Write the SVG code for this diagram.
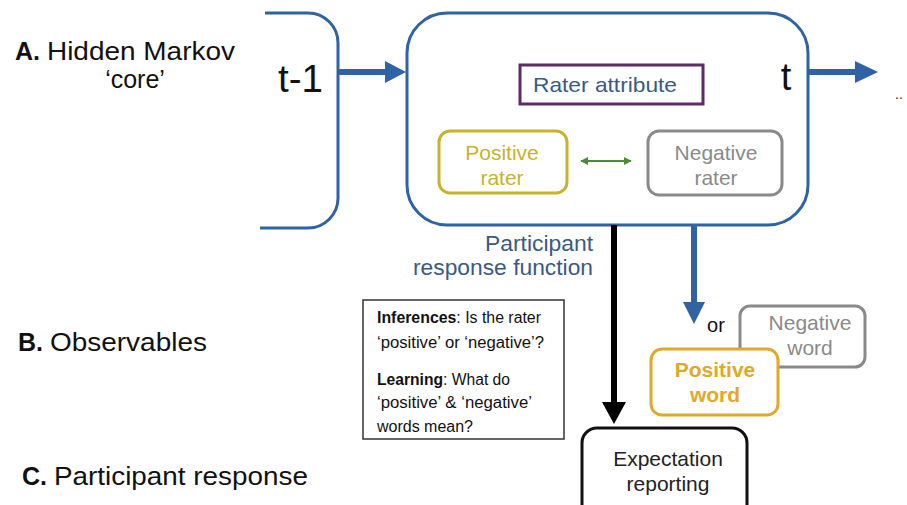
<svg xmlns="http://www.w3.org/2000/svg" width="907" height="505" viewBox="0 0 907 505">
<defs>
<style>
text{font-family:"Liberation Sans",Arial,sans-serif}
.lbl{font-size:25px;fill:#111}
.b{font-weight:bold}
.blue{stroke:#2f63a3;fill:none}
.bt{fill:#3a5a82}
.inf{font-size:16px;fill:#111}
</style>
<marker id="gh" viewBox="0 0 10 10" refX="9" refY="5" markerWidth="4" markerHeight="4" orient="auto-start-reverse"><path d="M0,0 L10,5 L0,10 z" fill="#4e8a3a"/></marker>
</defs>
<rect width="907" height="505" fill="#fff"/>

<g id="labels">
<text class="lbl" x="15" y="60"><tspan class="b">A.</tspan> <tspan textLength="188" lengthAdjust="spacingAndGlyphs">Hidden Markov</tspan></text>
<text class="lbl" x="135" y="88" text-anchor="middle">‘core’</text>
<text class="lbl" x="18" y="351"><tspan class="b">B.</tspan> <tspan textLength="157" lengthAdjust="spacingAndGlyphs">Observables</tspan></text>
<text class="lbl" x="22" y="485"><tspan class="b">C.</tspan> <tspan textLength="254" lengthAdjust="spacingAndGlyphs">Participant response</tspan></text>
</g>

<g id="prev">
<path class="blue" stroke-width="3" d="M265,13 H308 A30,30 0 0 1 338,43 V198 A30,30 0 0 1 308,228 H260"/>
<text x="278" y="92" font-size="38" fill="#111" textLength="45" lengthAdjust="spacingAndGlyphs">t-1</text>
</g>

<g id="core">
<rect class="blue" stroke-width="3" x="407" y="13" width="401" height="212" rx="40"/>
<text x="786" y="90" font-size="38" fill="#111" text-anchor="middle">t</text>
</g>

<g id="rater-attribute">
<rect x="520" y="65" width="183" height="39" fill="#fff" stroke="#5e2a68" stroke-width="3"/>
<text class="bt" x="605" y="92" font-size="21" text-anchor="middle" textLength="144" lengthAdjust="spacingAndGlyphs">Rater attribute</text>
</g>

<g id="positive-rater">
<rect x="439" y="131" width="128" height="62" rx="11" fill="#fff" stroke="#c8b22a" stroke-width="3"/>
<text x="502" y="160" font-size="21" fill="#c8b22a" text-anchor="middle">Positive</text>
<text x="502" y="185" font-size="21" fill="#c8b22a" text-anchor="middle">rater</text>
</g>

<g id="negative-rater">
<rect x="648" y="131" width="134" height="64" rx="11" fill="#fff" stroke="#8a8a8a" stroke-width="3"/>
<text x="716" y="160" font-size="21" fill="#8a8a8a" text-anchor="middle">Negative</text>
<text x="716" y="185" font-size="21" fill="#8a8a8a" text-anchor="middle">rater</text>
</g>

<g id="participant-label">
<text class="bt" x="593" y="251" font-size="22" text-anchor="end" textLength="108" lengthAdjust="spacingAndGlyphs">Participant</text>
<text class="bt" x="593" y="275" font-size="22" text-anchor="end" textLength="180" lengthAdjust="spacingAndGlyphs">response function</text>
</g>

<g id="inference-box">
<rect x="363" y="300" width="201" height="139" fill="#fff" stroke="#333" stroke-width="1.5"/>
<text class="inf" x="377" y="323" textLength="164" lengthAdjust="spacingAndGlyphs"><tspan class="b">Inferences</tspan>: Is the rater</text>
<text class="inf" x="377" y="348" textLength="167" lengthAdjust="spacingAndGlyphs">‘positive’ or ‘negative’?</text>
<text class="inf" x="377" y="385" textLength="133" lengthAdjust="spacingAndGlyphs"><tspan class="b">Learning</tspan>: What do</text>
<text class="inf" x="377" y="408" textLength="155" lengthAdjust="spacingAndGlyphs">‘positive’ &amp; ‘negative’</text>
<text class="inf" x="377" y="432" textLength="96" lengthAdjust="spacingAndGlyphs">words mean?</text>
</g>

<g id="negative-word">
<rect x="740" y="306" width="125" height="61" rx="10" fill="#fff" stroke="#8a8a8a" stroke-width="3"/>
<text x="810" y="330" font-size="21" fill="#8a8a8a" text-anchor="middle">Negative</text>
<text x="810" y="355" font-size="21" fill="#8a8a8a" text-anchor="middle">word</text>
</g>

<g id="positive-word">
<rect x="651" y="349" width="127" height="66" rx="11" fill="#fff" stroke="#e2a82a" stroke-width="3"/>
<text x="715" y="377" font-size="21" font-weight="bold" fill="#e2a82a" text-anchor="middle">Positive</text>
<text x="715" y="402" font-size="21" font-weight="bold" fill="#e2a82a" text-anchor="middle">word</text>
</g>

<g id="or-label">
<text x="716" y="332" font-size="20" fill="#111" text-anchor="middle">or</text>
</g>

<g id="expectation">
<rect x="582" y="428" width="165" height="100" rx="15" fill="#fff" stroke="#111" stroke-width="3"/>
<text x="668" y="466" font-size="21" fill="#222" text-anchor="middle">Expectation</text>
<text x="668" y="491" font-size="21" fill="#222" text-anchor="middle">reporting</text>
</g>

<g id="ellipsis">
<text x="895" y="99" font-size="14" fill="#333">..</text>
</g>

<g id="connectors">
<line x1="339" y1="72" x2="388" y2="72" stroke="#2f63a3" stroke-width="6"/>
<path d="M385,61 L406,72 L385,83 z" fill="#2f63a3"/>
<line x1="808" y1="72" x2="858" y2="72" stroke="#2f63a3" stroke-width="6"/>
<path d="M855,61 L878,72 L855,83 z" fill="#2f63a3"/>
<line x1="581" y1="161" x2="631" y2="161" stroke="#4e8a3a" stroke-width="2" marker-start="url(#gh)" marker-end="url(#gh)"/>
<line x1="614" y1="225" x2="614" y2="405" stroke="#000" stroke-width="6"/>
<path d="M602,402 L614,424 L626,402 z" fill="#000"/>
<line x1="694" y1="226" x2="694" y2="305" stroke="#2f63a3" stroke-width="6"/>
<path d="M683,302 L694,324 L705,302 z" fill="#2f63a3"/>
</g>
</svg>
